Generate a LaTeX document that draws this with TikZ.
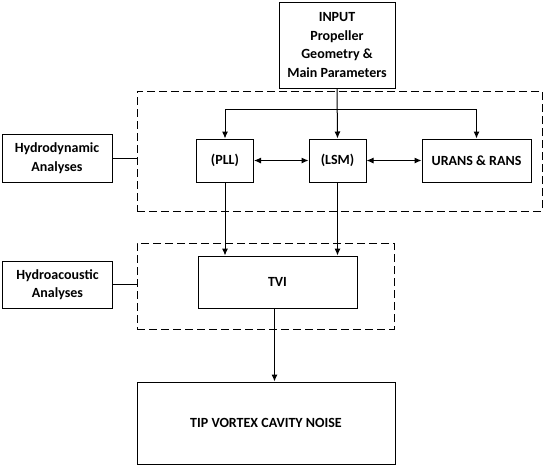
\documentclass[tikz,border=0pt]{standalone}
\usepackage{fontspec}
\setmainfont{Carlito}
\usetikzlibrary{arrows.meta}
\tikzset{
  blk/.style={draw, line width=1pt, align=center, inner sep=0pt,
    font=\fontsize{14}{18.5}\selectfont\bfseries},
  grp/.style={draw, line width=1pt, dash pattern=on 8pt off 4pt,
    inner sep=0pt},
  arr/.style={line width=1pt, -{Latex[length=7pt,width=6pt]}},
  arrs/.style={line width=1pt, {Latex[length=7pt,width=6pt]}-{Latex[length=7pt,width=6pt]}},
  lnk/.style={line width=1pt}
}
\begin{document}
\begin{tikzpicture}[x=1pt,y=-1pt]
  \useasboundingbox (0,0) rectangle (545,467);
  % groups
  \node[grp, minimum width=405pt, minimum height=120pt] (hydgrp) at (339.5,151) {};
  \node[grp, minimum width=257pt, minimum height=86pt] (acugrp) at (265.5,286) {};
  % boxes
  \node[blk, minimum width=116pt, minimum height=86pt] (input) at (337,45)
    {INPUT\\Propeller\\Geometry \&\\Main Parameters};
  \node[blk, minimum width=110pt, minimum height=48pt] (hydlab) at (57,158)
    {Hydrodynamic\\Analyses};
  \node[blk, minimum width=57pt, minimum height=43pt] (pll) at (225,160.5) {(PLL)};
  \node[blk, minimum width=57pt, minimum height=43pt] (lsm) at (337.5,160.5) {(LSM)};
  \node[blk, minimum width=109pt, minimum height=43pt] (urans) at (476.5,160.5) {URANS \& RANS};
  \node[blk, minimum width=110pt, minimum height=47pt] (aculab) at (57.5,284.5)
    {Hydroacoustic\\Analyses};
  \node[blk, minimum width=159pt, minimum height=52pt] (tvi) at (277.5,282) {TVI};
  \node[blk, minimum width=258pt, minimum height=82pt] (tip) at (266,423) {TIP VORTEX CAVITY NOISE};
  % connectors
  \coordinate (split) at (337.5,109);
  \draw[arr] (input.south) -- (lsm.north);
  \draw[lnk] (split -| pll.north) -- (split -| urans.north);
  \draw[arr] (split -| pll.north) -- (pll.north);
  \draw[arr] (split -| urans.north) -- (urans.north);
  \draw[arrs] (pll.east) -- (lsm.west);
  \draw[arrs] (lsm.east) -- (urans.west);
  \draw[lnk] (hydlab.east) -- (hydlab.east -| hydgrp.west);
  \draw[lnk] (aculab.east) -- (aculab.east -| acugrp.west);
  \draw[arr] (pll.south) -- (pll.south |- tvi.north);
  \draw[arr] (lsm.south) -- (lsm.south |- tvi.north);
  \draw[arr] ([xshift=-3pt]tvi.south) -- ([xshift=-3pt]tvi.south |- tip.north);
\end{tikzpicture}
\end{document}
